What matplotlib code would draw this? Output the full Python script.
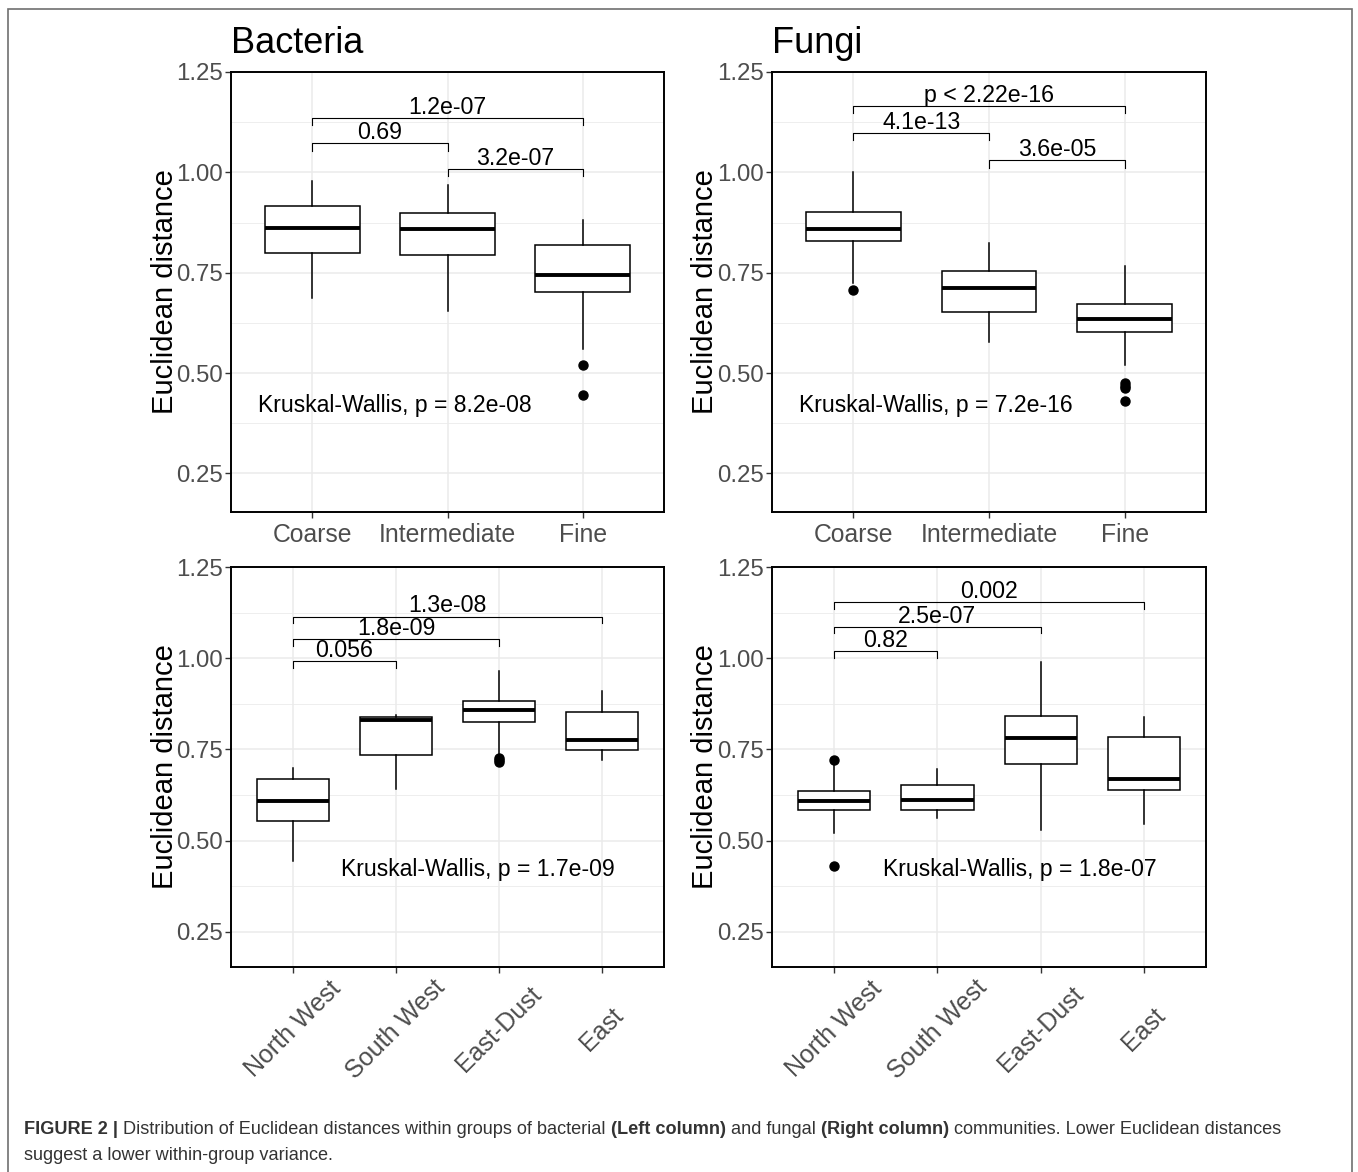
import matplotlib.pyplot as plt
import matplotlib.patches as mpatches
from matplotlib.ticker import MultipleLocator, FormatStrFormatter

plt.rcParams['font.family'] = ['Liberation Sans', 'DejaVu Sans']

# ==========================================
# 1. Values
# ==========================================
size_groups = ['Coarse', 'Intermediate', 'Fine']
region_groups = ['North West', 'South West', 'East-Dust', 'East']

# Bacteria ~ particle size
bac_size_whislo = [0.687, 0.654, 0.559]
bac_size_q1 = [0.799, 0.795, 0.703]
bac_size_med = [0.861, 0.858, 0.745]
bac_size_q3 = [0.916, 0.898, 0.820]
bac_size_whishi = [0.979, 0.969, 0.881]
bac_size_fliers = [[], [], [0.521, 0.445]]
bac_size_pairs = [(1, 3), (1, 2), (2, 3)]
bac_size_pvals = ['1.2e-07', '0.69', '3.2e-07']
bac_size_bracket_y = [1.135, 1.072, 1.008]
bac_size_kw = 'Kruskal-Wallis, p = 8.2e-08'

# Fungi ~ particle size
fun_size_whislo = [0.724, 0.577, 0.521]
fun_size_q1 = [0.828, 0.652, 0.602]
fun_size_med = [0.859, 0.711, 0.635]
fun_size_q3 = [0.902, 0.755, 0.672]
fun_size_whishi = [1.000, 0.825, 0.766]
fun_size_fliers = [[0.708], [], [0.475, 0.468, 0.463, 0.430]]
fun_size_pairs = [(1, 3), (1, 2), (2, 3)]
fun_size_pvals = ['p < 2.22e-16', '4.1e-13', '3.6e-05']
fun_size_bracket_y = [1.165, 1.098, 1.030]
fun_size_kw = 'Kruskal-Wallis, p = 7.2e-16'

# Bacteria ~ region
bac_reg_whislo = [0.444, 0.641, 0.730, 0.721]
bac_reg_q1 = [0.555, 0.736, 0.824, 0.748]
bac_reg_med = [0.609, 0.832, 0.858, 0.775]
bac_reg_q3 = [0.668, 0.840, 0.883, 0.854]
bac_reg_whishi = [0.698, 0.844, 0.965, 0.909]
bac_reg_fliers = [[], [], [0.728, 0.722, 0.716], []]
bac_reg_pairs = [(1, 4), (1, 3), (1, 2)]
bac_reg_pvals = ['1.3e-08', '1.8e-09', '0.056']
bac_reg_bracket_y = [1.114, 1.052, 0.992]
bac_reg_kw = 'Kruskal-Wallis, p = 1.7e-09'

# Fungi ~ region
fun_reg_whislo = [0.521, 0.562, 0.530, 0.547]
fun_reg_q1 = [0.583, 0.585, 0.710, 0.640]
fun_reg_med = [0.609, 0.612, 0.781, 0.668]
fun_reg_q3 = [0.637, 0.652, 0.843, 0.785]
fun_reg_whishi = [0.712, 0.696, 0.991, 0.839]
fun_reg_fliers = [[0.720, 0.430], [], [], []]
fun_reg_pairs = [(1, 4), (1, 3), (1, 2)]
fun_reg_pvals = ['0.002', '2.5e-07', '0.82']
fun_reg_bracket_y = [1.154, 1.086, 1.019]
fun_reg_kw = 'Kruskal-Wallis, p = 1.8e-07'


def make_stats(whislo, q1, med, q3, whishi, fliers):
    return [dict(whislo=a, q1=b, med=c, q3=d, whishi=e, fliers=f)
            for a, b, c, d, e, f in zip(whislo, q1, med, q3, whishi, fliers)]


def draw_panel(ax, groups, stats, pairs, pvals, bracket_y, kw_text, kw_x, rotate):
    pos = list(range(1, len(groups) + 1))
    ax.set_axisbelow(True)
    ax.bxp(stats, positions=pos, widths=0.7, showcaps=False, patch_artist=True,
           boxprops=dict(facecolor='white', edgecolor='black', linewidth=1.1),
           medianprops=dict(color='black', linewidth=2.8),
           whiskerprops=dict(color='black', linewidth=1.1),
           flierprops=dict(marker='o', markerfacecolor='black', markeredgecolor='black',
                           markersize=6.5, linestyle='none'))

    # significance brackets
    tip = 0.018
    for (i, j), lab, y in zip(pairs, pvals, bracket_y):
        ax.plot([i, i, j, j], [y - tip, y, y, y - tip], color='black', lw=0.8)
        ax.annotate(lab, xy=((i + j) / 2, y), xytext=(0, 3), textcoords='offset points',
                    ha='center', va='baseline', fontsize=16.7, color='black')

    ax.text(kw_x, 0.42, kw_text, ha='left', va='center', fontsize=16.6, color='black')

    ax.set_xlim(0.4, len(groups) + 0.6)
    ax.set_ylim(0.154, 1.25)
    ax.set_yticks([0.25, 0.50, 0.75, 1.00, 1.25])
    ax.yaxis.set_major_formatter(FormatStrFormatter('%.2f'))
    ax.yaxis.set_minor_locator(MultipleLocator(0.125))
    ax.grid(which='major', color='#EBEBEB', lw=1.1)
    ax.grid(which='minor', axis='y', color='#EBEBEB', lw=0.6)
    ax.tick_params(which='minor', length=0)
    ax.tick_params(which='major', length=4, width=1.0, color='#333333',
                   labelcolor='#4D4D4D')
    ax.tick_params(axis='y', labelsize=17.3, pad=2)

    if rotate:
        ax.set_xticks(pos, groups, rotation=45, ha='center', va='center')
        ax.tick_params(axis='x', labelsize=18, pad=41)
    else:
        ax.set_xticks(pos, groups)
        ax.tick_params(axis='x', labelsize=17.8, pad=4)

    for sp in ax.spines.values():
        sp.set_color('black')
        sp.set_linewidth(1.4)

    ax.set_ylabel('Euclidean distance', fontsize=21, color='black')
    ax.yaxis.set_label_coords(-0.121, 0.5)


# ==========================================
# 2. Figure layout
# ==========================================
W, H = 1358, 1172
fig = plt.figure(figsize=(W / 100, H / 100), dpi=100)

ax_bs = fig.add_axes([231 / W, 1 - 512 / H, 433 / W, 440 / H])
ax_fs = fig.add_axes([772 / W, 1 - 512 / H, 434 / W, 440 / H])
ax_br = fig.add_axes([231 / W, 1 - 967 / H, 433 / W, 400 / H])
ax_fr = fig.add_axes([772 / W, 1 - 967 / H, 434 / W, 400 / H])

draw_panel(ax_bs, size_groups,
           make_stats(bac_size_whislo, bac_size_q1, bac_size_med, bac_size_q3,
                      bac_size_whishi, bac_size_fliers),
           bac_size_pairs, bac_size_pvals, bac_size_bracket_y, bac_size_kw, 0.6, False)
draw_panel(ax_fs, size_groups,
           make_stats(fun_size_whislo, fun_size_q1, fun_size_med, fun_size_q3,
                      fun_size_whishi, fun_size_fliers),
           fun_size_pairs, fun_size_pvals, fun_size_bracket_y, fun_size_kw, 0.6, False)
draw_panel(ax_br, region_groups,
           make_stats(bac_reg_whislo, bac_reg_q1, bac_reg_med, bac_reg_q3,
                      bac_reg_whishi, bac_reg_fliers),
           bac_reg_pairs, bac_reg_pvals, bac_reg_bracket_y, bac_reg_kw, 1.47, True)
draw_panel(ax_fr, region_groups,
           make_stats(fun_reg_whislo, fun_reg_q1, fun_reg_med, fun_reg_q3,
                      fun_reg_whishi, fun_reg_fliers),
           fun_reg_pairs, fun_reg_pvals, fun_reg_bracket_y, fun_reg_kw, 1.47, True)

ax_bs.set_title('Bacteria', loc='left', fontsize=26, pad=14)
ax_fs.set_title('Fungi', loc='left', fontsize=26, pad=14)

# outer frame of the figure page
fig.patches.append(mpatches.Rectangle((8 / W, -0.02), (1352 - 8) / W, 1.02 - 8.5 / H,
                                      transform=fig.transFigure, fill=False,
                                      edgecolor='#707070', lw=1.2))

# ==========================================
# 3. Caption (mixed bold / regular runs)
# ==========================================
cap_size = 13.1
renderer = fig.canvas.get_renderer()
space_px = 0.278 * cap_size * 100 / 72


def draw_runs(x_px, y_px, runs):
    for txt, weight in runs:
        t = fig.text(x_px / W, 1 - y_px / H, txt, fontsize=cap_size, fontweight=weight,
                     color='#333333', ha='left', va='center')
        x_px += t.get_window_extent(renderer).width + space_px


draw_runs(24, 1129, [('FIGURE 2 |', 'bold'),
                     ('Distribution of Euclidean distances within groups of bacterial', 'normal'),
                     ('(Left column)', 'bold'),
                     ('and fungal', 'normal'),
                     ('(Right column)', 'bold'),
                     ('communities. Lower Euclidean distances', 'normal')])
draw_runs(24, 1155, [('suggest a lower within-group variance.', 'normal')])

fig.savefig('out.png', dpi=100)
